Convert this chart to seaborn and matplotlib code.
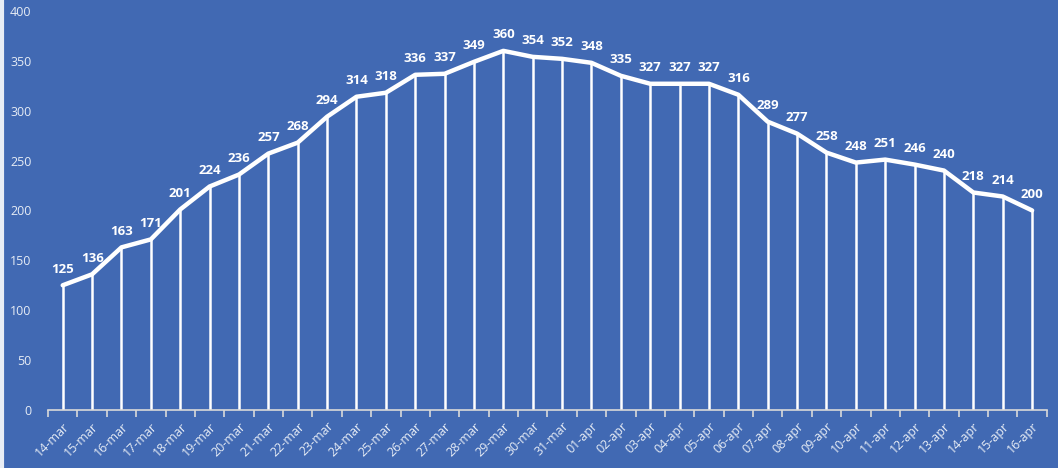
import matplotlib.pyplot as plt
import pandas as pd
import seaborn as sns
import numpy as np

BG = "#4169B3"

dates = ["14-mar", "15-mar", "16-mar", "17-mar", "18-mar", "19-mar", "20-mar", "21-mar",
         "22-mar", "23-mar", "24-mar", "25-mar", "26-mar", "27-mar", "28-mar", "29-mar",
         "30-mar", "31-mar", "01-apr", "02-apr", "03-apr", "04-apr", "05-apr", "06-apr",
         "07-apr", "08-apr", "09-apr", "10-apr", "11-apr", "12-apr", "13-apr", "14-apr",
         "15-apr", "16-apr"]
values = [125, 136, 163, 171, 201, 224, 236, 257, 268, 294, 314, 318, 336, 337, 349, 360,
          354, 352, 348, 335, 327, 327, 327, 316, 289, 277, 258, 248, 251, 246, 240, 218,
          214, 200]

df = pd.DataFrame({"pos": np.arange(len(dates)), "date": dates, "value": values})

sns.set_style("white")
plt.rcParams['font.family'] = ['Open Sans', 'DejaVu Sans']

fig = plt.figure(figsize=(10.58, 4.68), dpi=100, facecolor=BG)
ax = fig.add_axes([0.0454, 0.124, 0.944, 0.8526])
ax.set_facecolor(BG)

# drop lines from each point down to the axis
ax.vlines(df["pos"], 0, df["value"], colors="white", linewidth=1.8, zorder=2)
sns.lineplot(data=df, x="pos", y="value", ax=ax, color="white", linewidth=3.2,
             zorder=3, solid_joinstyle="round")

for p, v in zip(df["pos"], df["value"]):
    ax.annotate(str(v), (p, v), xytext=(0, 7), textcoords="offset points",
                ha="center", va="bottom", color="white", fontsize=9.5,
                fontweight="bold")

ax.set_xlim(-0.5, len(dates) - 0.5)
ax.set_ylim(0, 400)
ax.set_yticks(range(0, 401, 50))
ax.set_xticks(df["pos"])
ax.set_xticklabels(dates, rotation=45, ha="right", rotation_mode="anchor")
ax.set_xlabel("")
ax.set_ylabel("")

# minor ticks on category boundaries, no major tick marks
ax.set_xticks(np.arange(-0.5, len(dates), 1), minor=True)
ax.tick_params(axis="x", which="major", length=0, pad=7, colors="#E6ECF5", labelsize=9)
ax.tick_params(axis="x", which="minor", length=5, width=1.2, color="#D9D9D9",
               direction="out", bottom=True)
ax.tick_params(axis="y", length=0, pad=12, colors="#E6ECF5", labelsize=9)

for s in ["top", "right", "left"]:
    ax.spines[s].set_visible(False)
ax.spines["bottom"].set_color("#D9D9D9")
ax.spines["bottom"].set_linewidth(1.2)

# thin light strip at the left edge of the picture
fig.add_artist(plt.Line2D([0.002, 0.002], [0, 1], color="#E8EDF5", linewidth=3,
                          transform=fig.transFigure))

fig.savefig("out.png", dpi=100, facecolor=BG)
